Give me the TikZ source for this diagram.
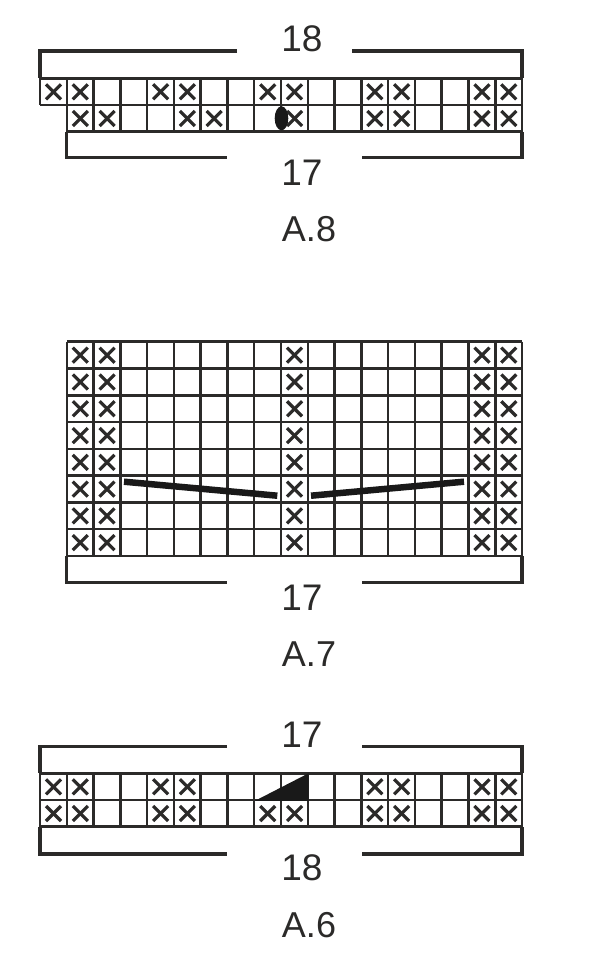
\documentclass[tikz,border=0pt]{standalone}
\usepackage{fontspec}
\setmainfont{Liberation Sans}
\definecolor{inkgrey}{HTML}{2B2A29}
\tikzset{
	gridline/.style={line width=2.5pt,draw=inkgrey},
	bracketline/.style={line width=3.3pt,draw=inkgrey},
	crossline/.style={line width=3.2pt,draw=inkgrey},
	decreaseline/.style={line width=6.5pt,draw=black!90},
	countlabel/.style={text=inkgrey,font=\fontsize{37}{40}\selectfont,inner sep=0pt},
	chartlabel/.style={text=inkgrey,font=\fontsize{36}{40}\selectfont,inner sep=0pt}
}
% one crossed cell: column and top edge of the row, columns counted from x=40
\newcommand{\crosscell}[2]{
	\draw[crossline] ({40+26.78*#1+6},{#2+6}) -- ({40+26.78*#1+21},{#2+21});
	\draw[crossline] ({40+26.78*#1+6},{#2+21}) -- ({40+26.78*#1+21},{#2+6});
}
\begin{document}
\begin{tikzpicture}[x=1pt,y=-1pt]
	\useasboundingbox[fill=white] (0,0) rectangle (600,958);

	% A.8
	\draw[gridline] (40,78.3) -- (522,78.3);
	\draw[gridline] (40,105) -- (522,105);
	\draw[gridline] (66.8,131.7) -- (522,131.7);
	\draw[gridline] (40,78.3) -- (40,105);
	\foreach \c in {1,...,18} {
		\draw[gridline] ({40+26.78*\c},78.3) -- ({40+26.78*\c},131.7);
	}
	\foreach \c in {0,1,4,5,8,9,12,13,16,17} {
		\crosscell{\c}{78.3}
	}
	\foreach \c in {1,2,5,6,9,12,13,16,17} {
		\crosscell{\c}{105}
	}
	\fill[black!90] (281.5,118.3) ellipse (6.8pt and 12pt);
	\draw[bracketline] (237,51) -- (40,51) -- (40,78.3);
	\draw[bracketline] (352,51) -- (522,51) -- (522,78.3);
	\draw[bracketline] (66.8,131.7) -- (66.8,157.7) -- (227,157.7);
	\draw[bracketline] (362,157.7) -- (522,157.7) -- (522,131.7);
	\node[countlabel] (eighttop) at (302,38.5) {18};
	\node[countlabel] (eightbottom) at (302,172.5) {17};
	\node[chartlabel] (eightname) at (309,229) {A.8};

	% A.7
	\foreach \r in {0,...,8} {
		\draw[gridline] (66.8,{341.7+26.78*\r}) -- (522,{341.7+26.78*\r});
	}
	\foreach \c in {1,...,18} {
		\draw[gridline] ({40+26.78*\c},341.7) -- ({40+26.78*\c},556);
	}
	\foreach \r in {0,...,7} {
		\foreach \c in {1,2,9,16,17} {
			\crosscell{\c}{341.7+26.78*\r}
		}
	}
	\draw[decreaseline] (124,481.7) -- (277.3,495.7);
	\draw[decreaseline] (311,495.7) -- (464,481.7);
	\draw[bracketline] (66.8,556) -- (66.8,582.7) -- (227,582.7);
	\draw[bracketline] (362,582.7) -- (522,582.7) -- (522,556);
	\node[countlabel] (sevenbottom) at (302,597.5) {17};
	\node[chartlabel] (sevenname) at (309,654) {A.7};

	% A.6
	\foreach \r in {773.3,800,826.7} {
		\draw[gridline] (40,\r) -- (522,\r);
	}
	\foreach \c in {0,...,18} {
		\draw[gridline] ({40+26.78*\c},773.3) -- ({40+26.78*\c},826.7);
	}
	\foreach \c in {0,1,4,5,12,13,16,17} {
		\crosscell{\c}{773.3}
	}
	\foreach \c in {0,1,4,5,8,9,12,13,16,17} {
		\crosscell{\c}{800}
	}
	\fill[black!90] (255,800.8) -- (308.5,800.8) -- (308.5,773.3) -- cycle;
	\draw[bracketline] (227,746.7) -- (40,746.7) -- (40,773.3);
	\draw[bracketline] (362,746.7) -- (522,746.7) -- (522,773.3);
	\draw[bracketline] (40,826.7) -- (40,854) -- (227,854);
	\draw[bracketline] (362,854) -- (522,854) -- (522,826.7);
	\node[countlabel] (sixtop) at (302,734.5) {17};
	\node[countlabel] (sixbottom) at (302,867.5) {18};
	\node[chartlabel] (sixname) at (309,925) {A.6};
\end{tikzpicture}
\end{document}
